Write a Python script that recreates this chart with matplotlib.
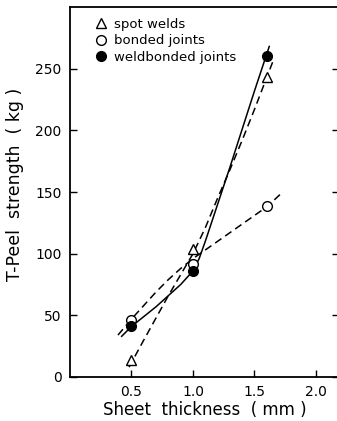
import numpy as np
import matplotlib
matplotlib.use("Agg")
import matplotlib.pyplot as plt

# measured points
thickness = [0.5, 1.0, 1.6]
spot = [14, 104, 243]
bonded = [46, 92, 139]
weldbonded = [41, 86, 260]

# hand-drawn trend curves
spot_cx = [0.48, 0.6, 0.7, 0.8, 0.9, 1.0, 1.1, 1.2, 1.3, 1.4, 1.5, 1.6, 1.65]
spot_cy = [8, 30, 48, 66, 83, 100, 121, 145, 168, 192, 217, 243, 256]
bond_cx = [0.39, 0.5, 0.6, 0.7, 0.8, 0.9, 1.0, 1.1, 1.2, 1.3, 1.4, 1.5, 1.6, 1.73]
bond_cy = [34, 47, 58, 69, 79, 88, 96, 103, 110, 117, 124, 131, 138, 150]
wb_cx = [0.42, 0.5, 0.6, 0.7, 0.8, 0.9, 1.0, 1.05, 1.1, 1.2, 1.3, 1.4, 1.5, 1.62]
wb_cy = [33, 41, 49, 57, 66, 75, 86, 96, 110, 140, 170, 201, 232, 268]

xticks = [0.5, 1.0, 1.5, 2.0]
yticks = [0, 50, 100, 150, 200, 250]

plt.rcParams['font.family'] = 'DejaVu Sans'
fig = plt.figure(figsize=(3.37, 4.21), dpi=100)
ax = fig.add_axes([70/337, 44/421, 269/337, 370/421])

ax.plot(spot_cx, spot_cy, color='black', lw=1.1, ls=(0, (5, 3)))
ax.plot(bond_cx, bond_cy, color='black', lw=1.1, ls=(0, (5, 3)))
ax.plot(wb_cx, wb_cy, color='black', lw=1.1)

ax.plot(thickness, spot, ls='none', marker='^', ms=7, mfc='white', mec='black', mew=1.0, label='spot welds')
ax.plot(thickness, bonded, ls='none', marker='o', ms=7, mfc='white', mec='black', mew=1.0, label='bonded joints')
ax.plot(thickness, weldbonded, ls='none', marker='o', ms=7, mfc='black', mec='black', label='weldbonded joints')

ax.set_xlim(0, 2.187)
ax.set_ylim(0, 300)
ax.set_xticks(xticks)
ax.set_xticklabels(['0.5', '1.0', '1.5', '2.0'])
ax.set_yticks(yticks)
ax.tick_params(direction='in', length=5, width=1, labelsize=10, right=True, pad=6)
ax.set_xlabel('Sheet  thickness  ( mm )', fontsize=12, labelpad=1)
ax.set_ylabel('T-Peel  strength  ( kg )', fontsize=12.5)
ax.yaxis.set_label_coords(-0.172, 0.52)
for s in ax.spines.values():
    s.set_linewidth(1.3)

ax.legend(loc='upper left', bbox_to_anchor=(0.06, 0.995), frameon=False, fontsize=9.5,
          handlelength=0.8, handletextpad=0.6, borderaxespad=0.3, labelspacing=0.25)

fig.savefig('out.png', dpi=100)
